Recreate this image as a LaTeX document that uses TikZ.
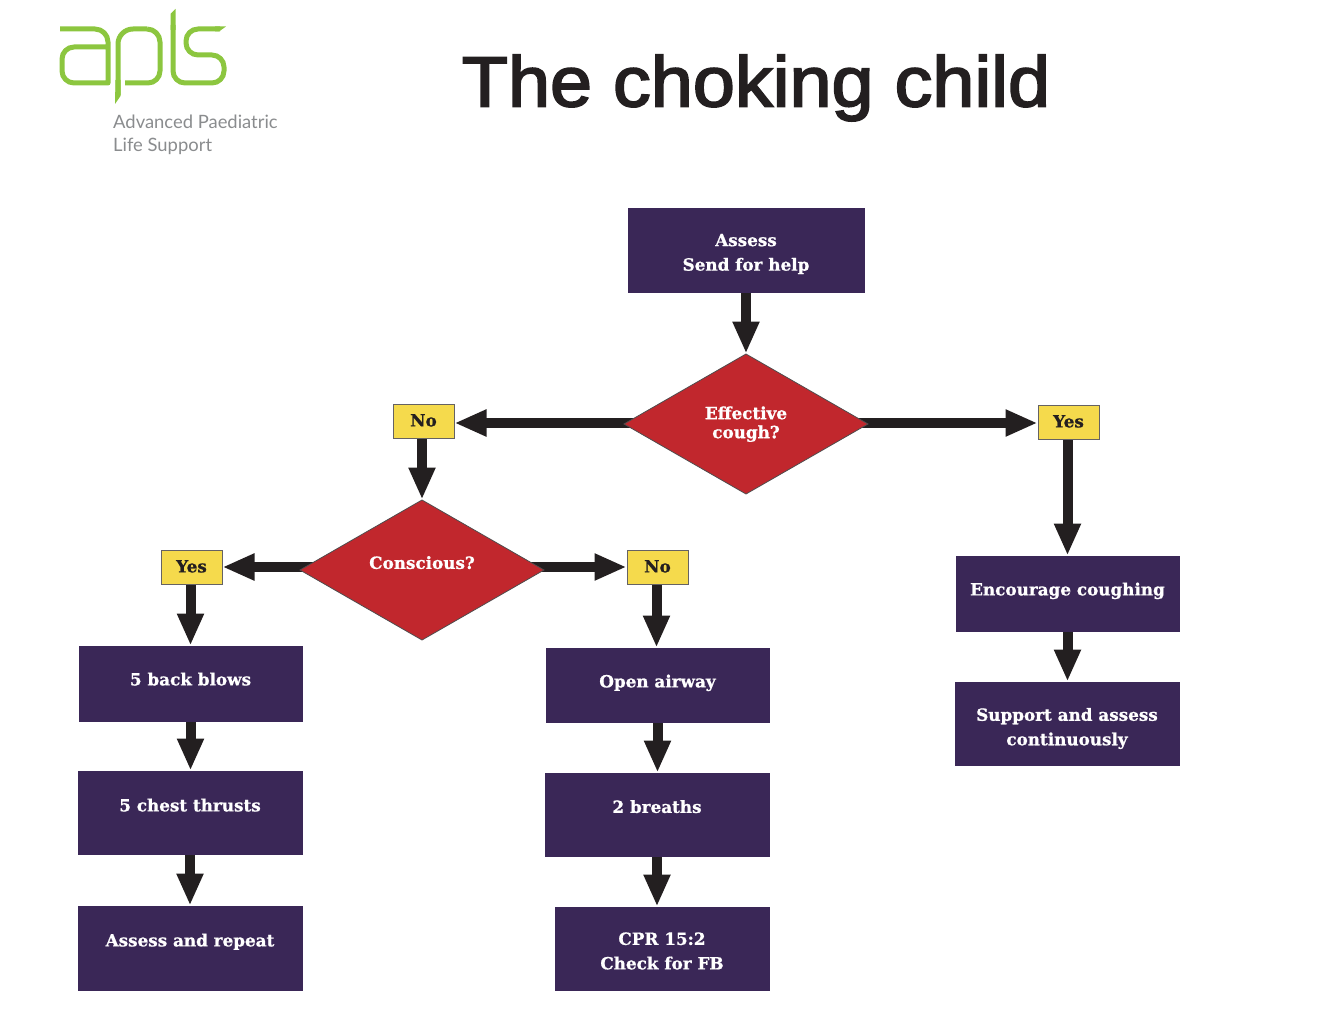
\documentclass[tikz,border=0pt]{standalone}
\usepackage{fontspec}
\usetikzlibrary{shapes.geometric,arrows.meta,backgrounds}
\setmainfont[BoldFeatures={FakeBold=0.9}]{DejaVu Serif}
\newfontfamily\titlefont[FakeBold=2.6,FakeStretch=1.065]{Liberation Sans}
\newfontfamily\logofont{Lato}
\definecolor{boxpurple}{HTML}{3A2757}
\definecolor{dred}{HTML}{C1272D}
\definecolor{tagyellow}{HTML}{F5DA4C}
\definecolor{arrowdark}{HTML}{231F20}
\definecolor{logogreen}{HTML}{8CC63F}
\definecolor{logogrey}{HTML}{8A8C8E}
\tikzset{
  x=1pt,y=-1pt,
  boxtext/.style={font=\bfseries\fontsize{16.8}{24.5}\selectfont,text=white,align=center},
  purplebox/.style={boxtext,draw=boxpurple,fill=boxpurple,line width=.4pt,outer sep=0pt,inner sep=0pt,anchor=north west},
  decision/.style={boxtext,diamond,draw=arrowdark!80,fill=dred,line width=.8pt,outer sep=0pt,inner sep=0pt,minimum width=244pt,minimum height=140pt},
  tag/.style={font=\bfseries\fontsize{16.8}{20}\selectfont,text=arrowdark,draw=arrowdark!70,fill=tagyellow,line width=1pt,outer sep=0pt,minimum width=61pt,minimum height=34pt,inner sep=0pt,anchor=north west},
  flow/.style={arrowdark,line width=10pt,-{Triangle[width=25pt,length=32pt]},shorten >=.5pt},
  logostroke/.style={logogreen,line width=5pt,line join=round},
}
\begin{document}
\begin{tikzpicture}
\useasboundingbox (0,0) rectangle (1334,1022);
% logo
\draw[logostroke] (60,29) -- (95,29) arc[start angle=-90,end angle=0,radius=13] -- (108,83) -- (74,83) arc[start angle=90,end angle=180,radius=12] -- (62,59) arc[start angle=180,end angle=270,radius=12] -- (108,47);
\draw[logostroke] (147,29) arc[start angle=-90,end angle=0,radius=13] -- (160,71) arc[start angle=0,end angle=90,radius=12] -- (125,83);
\draw[logostroke] (147,29) -- (133,29) arc[start angle=270,end angle=180,radius=15] -- (118,95);
\fill[logogreen] (115.5,80) -- (120.5,80) -- (120.5,96) -- (115,104) -- cycle;
\fill[logogreen] (170.5,14) -- (175.5,9) -- (175.5,30) -- (170.5,30) -- cycle;
\draw[logostroke] (173,25) -- (173,71) arc[start angle=180,end angle=90,radius=12] -- (212,83) arc[start angle=90,end angle=0,radius=12] -- (224,67) arc[start angle=0,end angle=-90,radius=12] -- (198,55) arc[start angle=90,end angle=180,radius=12] -- (186,41) arc[start angle=180,end angle=270,radius=12] -- (220,29);
\fill[logogreen] (215,26.5) -- (226,26.5) -- (219,31.5) -- (215,31.5) -- cycle;
\node[font=\logofont\fontsize{18.4}{23}\selectfont,text=logogrey,align=left,anchor=north west,inner sep=0pt] (logotext) at (113,115) {Advanced Paediatric\\Life Support};
% title
\node[font=\titlefont\fontsize{71}{80}\selectfont,text=arrowdark,inner sep=0pt] (title) at (756,88) {The choking child};
% boxes
\node[purplebox,minimum width=236pt,minimum height=84pt] (assess) at (628,208) {\parbox[c]{230pt}{\centering\vspace{8pt}Assess\\Send for help}};
\node[purplebox,minimum width=223pt,minimum height=75pt] (encourage) at (956,556) {\raisebox{9pt}{Encourage coughing}};
\node[purplebox,minimum width=224pt,minimum height=83pt] (support) at (955,682) {\parbox[c]{220pt}{\centering\vspace{10pt}Support and assess\\continuously}};
\node[purplebox,minimum width=223pt,minimum height=75pt] (back) at (79,646) {\raisebox{9pt}{5 back blows}};
\node[purplebox,minimum width=224pt,minimum height=83pt] (chest) at (78,771) {\raisebox{15pt}{5 chest thrusts}};
\node[purplebox,minimum width=224pt,minimum height=84pt] (repeat) at (78,906) {\raisebox{16pt}{Assess and repeat}};
\node[purplebox,minimum width=223pt,minimum height=74pt] (airway) at (546,648) {\raisebox{8pt}{Open airway}};
\node[purplebox,minimum width=224pt,minimum height=83pt] (breaths) at (545,773) {\raisebox{16pt}{2 breaths}};
\node[purplebox,minimum width=214pt,minimum height=83pt] (cpr) at (555,907) {\parbox[c]{210pt}{\centering\vspace{5pt}CPR 15:2\\Check for FB}};
% decisions
\node[decision] (cough) at (746,424) {\makebox[0pt]{\raisebox{-9pt}{\smash{\parbox[c]{120pt}{\centering\fontsize{16.8}{19}\selectfont Effective\\cough?}}}}};
\node[decision] (conscious) at (422,570) {\raisebox{15pt}{Conscious?}};
% tags
\node[tag] (nocough) at (393,404) {\raisebox{1.5pt}{No}};
\node[tag] (yescough) at (1038,405) {\raisebox{1.5pt}{Yes}};
\node[tag] (yesconscious) at (161,550) {\raisebox{1.5pt}{Yes}};
\node[tag] (noconscious) at (627,550) {\raisebox{1.5pt}{No}};
% connectors
\begin{scope}[on background layer]
\draw[flow] (assess.south -| cough.north) -- (cough.north);
\draw[flow,shorten <=-14pt] ([yshift=1pt]cough.west) -- ([yshift=1pt]cough.west -| nocough.east);
\draw[flow,shorten <=-14pt] ([yshift=1pt]cough.east) -- ([yshift=1pt]cough.east -| yescough.west);
\draw[flow] ([xshift=-1.5pt]nocough.south) -- ([xshift=-1.5pt]nocough.south |- conscious.north);
\draw[flow] (yescough.south -| encourage.north) -- (encourage.north);
\draw[flow,shorten <=-14pt] ([yshift=3pt]conscious.west) -- ([yshift=3pt]conscious.west -| yesconscious.east);
\draw[flow,shorten <=-14pt] ([yshift=3pt]conscious.east) -- ([yshift=3pt]conscious.east -| noconscious.west);
\draw[flow] (yesconscious.south -| back.north) -- (back.north);
\draw[flow] ([xshift=-1pt]noconscious.south) -- ([xshift=-1pt]airway.north -| noconscious.south);
\draw[flow] (encourage.south) -- (support.north -| encourage.south);
\draw[flow] (back.south) -- (chest.north -| back.south);
\draw[flow] (chest.south) -- (repeat.north);
\draw[flow] (airway.south) -- (breaths.north -| airway.south);
\draw[flow] (breaths.south) -- (cpr.north -| breaths.south);
\end{scope}
\end{tikzpicture}
\end{document}
